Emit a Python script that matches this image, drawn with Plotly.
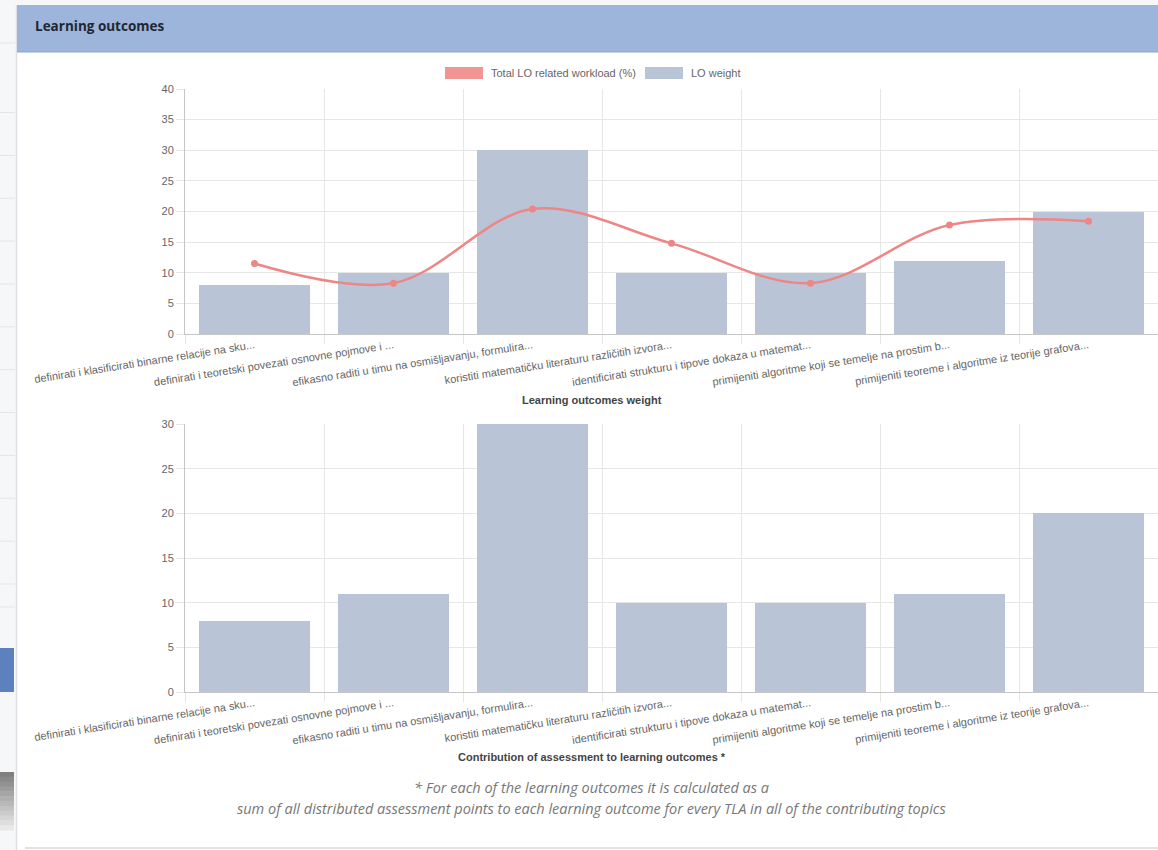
import numpy as np
import plotly.graph_objects as go

W, H = 1158, 850

# Learning outcome labels (truncated as displayed on the axis)
lo_labels = [
    "definirati i klasificirati binarne relacije na sku...",
    "definirati i teoretski povezati osnovne pojmove i ...",
    "efikasno raditi u timu na osmišljavanju, formulira...",
    "koristiti matematičku literaturu različitih izvora...",
    "identificirati strukturu i tipove dokaza u matemat...",
    "primijeniti algoritme koji se temelje na prostim b...",
    "primijeniti teoreme i algoritme iz teorije grafova...",
]
lo_weight = [8, 10, 30, 10, 10, 12, 20]
lo_workload = [11.5, 8.3, 20.4, 14.8, 8.3, 17.8, 18.4]
assessment_contribution = [8, 11, 30, 10, 10, 11, 20]

pos = np.arange(len(lo_labels))
bounds = list(np.arange(len(lo_labels) + 1) - 0.5)

BAR = "#b9c4d7"
LINE = "#ee8686"
GRID = "#e6e6e6"
AXIS = "#c6c6c6"
TICK_FONT = dict(family="Liberation Sans, Arial, sans-serif", size=11, color="#666666")


def px_x(x):
    return x / W


def px_y(y):
    return 1 - y / H


fig = go.Figure()

fig.add_trace(go.Bar(
    x=pos, y=lo_weight, width=0.8, marker=dict(color=BAR, line=dict(width=0)),
    name="LO weight", xaxis="x", yaxis="y", showlegend=False,
))
fig.add_trace(go.Scatter(
    x=pos, y=lo_workload, mode="lines+markers", line=dict(color=LINE, width=2.5, shape="spline", smoothing=1.0),
    marker=dict(color=LINE, size=7), name="Total LO related workload (%)",
    xaxis="x", yaxis="y", showlegend=False,
))
fig.add_trace(go.Bar(
    x=pos, y=assessment_contribution, width=0.8, marker=dict(color=BAR, line=dict(width=0)),
    name="Contribution", xaxis="x2", yaxis="y2", showlegend=False,
))


def xaxis_cfg(anchor, domain):
    return dict(
        domain=domain, anchor=anchor, range=[-0.5, len(lo_labels) - 0.5],
        tickmode="array", tickvals=pos, ticktext=lo_labels, tickangle=-9,
        ticks="", showgrid=False, zeroline=False,
        showline=True, linecolor=AXIS, linewidth=1,
        tickfont=TICK_FONT, automargin=False,
        minor=dict(tickmode="array", tickvals=bounds, ticks="outside", ticklen=9,
                   tickcolor=GRID, showgrid=True, gridcolor=GRID, gridwidth=1),
        fixedrange=True,
    )


def yaxis_cfg(anchor, domain, top):
    return dict(
        domain=domain, anchor=anchor, range=[0, top], dtick=5, tick0=0,
        ticks="outside", ticklen=8, tickcolor=GRID, showgrid=True, gridcolor=GRID,
        zeroline=False, showline=True, linecolor=AXIS, linewidth=1,
        tickfont=TICK_FONT, automargin=False, fixedrange=True,
    )


xdom = [px_x(185), 1.0]
fig.update_layout(
    width=W, height=H, margin=dict(l=0, r=0, t=0, b=0, autoexpand=False),
    paper_bgcolor="white", plot_bgcolor="white",
    bargap=0, showlegend=False,
    xaxis=xaxis_cfg("y", xdom),
    yaxis=yaxis_cfg("x", [px_y(334), px_y(89)], 40),
    xaxis2=xaxis_cfg("y2", xdom),
    yaxis2=yaxis_cfg("x2", [px_y(692), px_y(424)], 30),
)

shapes = []
ann = []

# page background around the panel
shapes.append(dict(type="rect", xref="paper", yref="paper", x0=0, x1=px_x(16), y0=0, y1=1,
                   fillcolor="#f6f7f9", line=dict(width=0), layer="below"))
shapes.append(dict(type="rect", xref="paper", yref="paper", x0=0, x1=1, y0=px_y(5), y1=1,
                   fillcolor="#f6f7f9", line=dict(width=0), layer="below"))
for yy in [43] + [112.5 + 42.86 * k for k in range(12)] + [607]:
    shapes.append(dict(type="line", xref="paper", yref="paper", x0=0, x1=px_x(15), y0=px_y(yy), y1=px_y(yy),
                       line=dict(color="#e3e5e8", width=1)))
shapes.append(dict(type="rect", xref="paper", yref="paper", x0=0, x1=px_x(14), y0=px_y(692), y1=px_y(648),
                   fillcolor="#5d80bf", line=dict(width=0)))
steps = 12
for i in range(steps):
    y0 = 772 + i * (58 / steps)
    g = int(128 + (232 - 128) * i / (steps - 1))
    shapes.append(dict(type="rect", xref="paper", yref="paper", x0=0, x1=px_x(14),
                       y0=px_y(y0 + 58 / steps + 0.5), y1=px_y(y0),
                       fillcolor=f"rgb({g},{g},{g})", line=dict(width=0)))
# panel edges
shapes.append(dict(type="line", xref="paper", yref="paper", x0=px_x(16.5), x1=px_x(16.5), y0=0, y1=px_y(5),
                   line=dict(color="#dde1e6", width=1.5)))
shapes.append(dict(type="line", xref="paper", yref="paper", x0=px_x(25), x1=1, y0=px_y(848), y1=px_y(848),
                   line=dict(color="#d9d9d9", width=1.5)))
# panel header
shapes.append(dict(type="rect", xref="paper", yref="paper", x0=px_x(17), x1=1, y0=px_y(52), y1=px_y(5),
                   fillcolor="#9db5da", line=dict(width=0)))
shapes.append(dict(type="line", xref="paper", yref="paper", x0=px_x(17), x1=1, y0=px_y(52), y1=px_y(52),
                   line=dict(color="#8ea6cc", width=1)))
ann.append(dict(xref="paper", yref="paper", x=px_x(33), y=px_y(26), xanchor="left", yanchor="middle",
                text="<b>Learning outcomes</b>", showarrow=False,
                font=dict(family="Open Sans, sans-serif", size=13.5, color="#1e2733")))

# legend
legend_items = [("Total LO related workload (%)", "#f09494", 445), ("LO weight", "#b9c4d7", 645)]
for label, color, x0 in legend_items:
    shapes.append(dict(type="rect", xref="paper", yref="paper", x0=px_x(x0), x1=px_x(x0 + 38),
                       y0=px_y(79), y1=px_y(67), fillcolor=color, line=dict(width=0)))
    ann.append(dict(xref="paper", yref="paper", x=px_x(x0 + 44), y=px_y(73.5), xanchor="left", yanchor="middle",
                    text=label, showarrow=False, font=TICK_FONT))

# axis titles
title_font = dict(family="Liberation Sans, Arial, sans-serif", size=11, color="#444444")
ann.append(dict(xref="paper", yref="paper", x=px_x(592), y=px_y(400), xanchor="center", yanchor="middle",
                text="<b>Learning outcomes weight</b>", showarrow=False, font=title_font))
ann.append(dict(xref="paper", yref="paper", x=px_x(592), y=px_y(757), xanchor="center", yanchor="middle",
                text="<b>Contribution of assessment to learning outcomes *</b>", showarrow=False, font=title_font))

# footnote
note_font = dict(family="Open Sans, sans-serif", size=14.5, color="#777777")
ann.append(dict(xref="paper", yref="paper", x=px_x(591), y=px_y(787), xanchor="center", yanchor="middle",
                text="<i>* For each of the learning outcomes it is calculated as a</i>", showarrow=False,
                font=note_font))
ann.append(dict(xref="paper", yref="paper", x=px_x(591), y=px_y(808), xanchor="center", yanchor="middle",
                text="<i>sum of all distributed assessment points to each learning outcome for every TLA in all of the contributing topics</i>",
                showarrow=False, font=note_font))

fig.update_layout(shapes=shapes, annotations=ann)
fig.write_html("out.html")
